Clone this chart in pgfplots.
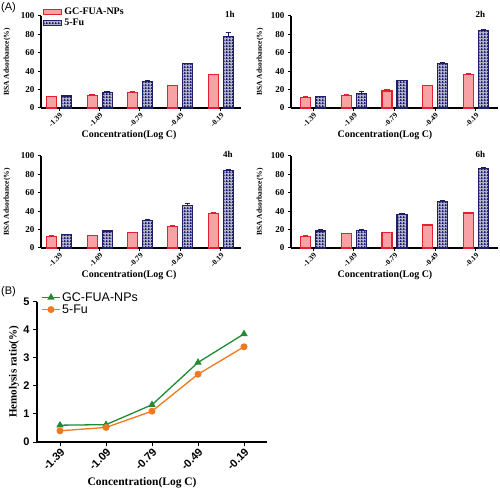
\documentclass[border=0pt]{standalone}
\usepackage{pgfplots}
\pgfplotsset{compat=1.18}
\usepackage{pgfplotstable}
\usetikzlibrary{patterns}
\usepackage{fontspec}
\setmainfont{Liberation Serif}
\newfontfamily\arial{Liberation Sans}
\definecolor{barred}{RGB}{228,32,48}
\definecolor{barpink}{RGB}{247,162,164}
\definecolor{navy}{RGB}{30,30,105}
\definecolor{lgreen}{RGB}{30,140,50}
\definecolor{lorange}{RGB}{240,120,30}
\pgfdeclarepatterninherentlycolored{navydots}{\pgfpointorigin}{\pgfqpoint{2.6pt}{2.6pt}}{\pgfqpoint{2.6pt}{2.6pt}}{%
 \pgfsetfillcolor{navy}\pgfpathrectangle{\pgfpointorigin}{\pgfqpoint{2.6pt}{2.6pt}}\pgfusepath{fill}%
 \pgfsetfillcolor{white}\pgfpathcircle{\pgfqpoint{1.3pt}{1.3pt}}{1.05pt}\pgfusepath{fill}}

\pgfplotstableread{
x r re b be
0 12.5 0.5 13 0.5
1 13.5 0.8 17 1.2
2 17 0.6 29 0.6
3 24 0.6 48 0.6
4 36 0.7 78 4.5
}\dataA
\pgfplotstableread{
x r re b be
0 11 1 12.3 0.6
1 13.5 0.7 16 1.8
2 18.5 1.5 29.5 0.8
3 24 0.6 48.5 0.6
4 36.5 0.6 84.5 1
}\dataB
\pgfplotstableread{
x r re b be
0 12.5 0.6 14.5 0.6
1 13.5 0.6 18.5 0.6
2 16.5 0.7 30 0.8
3 23 1.2 46.5 2
4 37.5 0.6 84 1
}\dataC
\pgfplotstableread{
x r re b be
0 12.5 0.6 18.5 1.5
1 15.5 0.5 19.5 0.6
2 16.5 0.6 36 2
3 25 1 50.5 0.7
4 38 0.7 86.5 1.2
}\dataD

\pgfplotsset{
 redbar/.style={draw=barred, line width=1.1pt, fill=barpink,
   error bars/.cd, y dir=plus, y explicit,
   error bar style={barred, line width=1pt},
   error mark options={barred, rotate=90, mark size=2.6pt, line width=1pt}},
 bluebar/.style={draw=navy, line width=1.1pt, pattern=navydots,
   error bars/.cd, y dir=plus, y explicit,
   error bar style={navy, line width=1pt},
   error mark options={navy, rotate=90, mark size=2.6pt, line width=1pt}},
 barpanel/.style={
  scale only axis, height=92pt, clip=false,
  ymin=0, ymax=100, ytick={0,20,...,100},
  xtick={0,...,4}, xticklabels={-1.39,-1.09,-0.79,-0.49,-0.19},
  axis x line*=bottom, axis y line*=left,
  axis line style={line width=1.2pt},
  tick align=outside, major tick length=3pt, tick style={line width=1pt, black},
  ybar=5pt, bar width=10pt,
  ticklabel style={font=\bfseries\fontsize{9}{9}\selectfont},
  /pgf/number format/assume math mode=true,
  xticklabel style={rotate=45, anchor=north east, inner sep=1pt, font=\bfseries\fontsize{7.5}{7.5}\selectfont},
 },
 leftpanel/.style={barpanel, width=200pt, xmin=-0.45, xmax=4.5},
 rightpanel/.style={barpanel, width=207pt, xmin=-0.55, xmax=4.55},
}
\newcommand{\xlab}[1]{\node[font=\bfseries\fontsize{10}{10}\selectfont] at (axis description cs:#1,-0.29) {Concentration(Log C)};}
\newcommand{\ylab}[1]{\node[font=\bfseries\fontsize{7.5}{7.5}\selectfont, rotate=90] at (axis description cs:#1,0.5) {BSA Adsorbance(\%)};}

\begin{document}
\begin{tikzpicture}
\useasboundingbox (0pt,0pt) rectangle (500pt,492pt);
\node[font=\arial\fontsize{11}{11}\selectfont, anchor=north west, inner sep=0pt] at (1pt,490pt) {(A)};
\node[font=\arial\fontsize{11}{11}\selectfont, anchor=north west, inner sep=0pt] at (1pt,206pt) {(B)};

% 1h
\begin{axis}[leftpanel, at={(41pt,384pt)}, anchor=south west,
  legend image code/.code={\draw[#1] (0pt,-2.5pt) rectangle (18pt,2.5pt);},
  legend style={draw=none, fill=none, at={(axis description cs:0.01,1.11)}, anchor=north west,
   font=\bfseries\fontsize{10}{10}\selectfont, row sep=-1.5pt, inner sep=0pt,
   /tikz/every even column/.append style={column sep=3pt}},
  legend cell align=left]
\addplot[redbar] table[x=x, y=r, y error=re]{\dataA};
\addplot[bluebar] table[x=x, y=b, y error=be]{\dataA};
\legend{GC-FUA-NPs,5-Fu}
\node[font=\bfseries\fontsize{9}{9}\selectfont] at (axis description cs:0.945,1.02) {1h};
\xlab{0.44}\ylab{-0.17}
\end{axis}

% 2h
\begin{axis}[rightpanel, at={(291pt,384pt)}, anchor=south west]
\addplot[redbar] table[x=x, y=r, y error=re]{\dataB};
\addplot[bluebar] table[x=x, y=b, y error=be]{\dataB};
\node[font=\bfseries\fontsize{9}{9}\selectfont] at (axis description cs:0.915,1.02) {2h};
\xlab{0.454}\ylab{-0.15}
\end{axis}

% 4h
\begin{axis}[leftpanel, at={(41pt,244pt)}, anchor=south west]
\addplot[redbar] table[x=x, y=r, y error=re]{\dataC};
\addplot[bluebar] table[x=x, y=b, y error=be]{\dataC};
\node[font=\bfseries\fontsize{9}{9}\selectfont] at (axis description cs:0.935,1.02) {4h};
\xlab{0.44}\ylab{-0.17}
\end{axis}

% 6h
\begin{axis}[rightpanel, at={(291pt,244pt)}, anchor=south west]
\addplot[redbar] table[x=x, y=r, y error=re]{\dataD};
\addplot[bluebar] table[x=x, y=b, y error=be]{\dataD};
\node[font=\bfseries\fontsize{9}{9}\selectfont] at (axis description cs:0.915,1.02) {6h};
\xlab{0.454}\ylab{-0.15}
\end{axis}

% (B)
\begin{axis}[scale only axis, width=230pt, height=140pt, at={(37pt,50pt)}, anchor=south west,
  clip=false,
  xmin=-0.5, xmax=4.5, ymin=0, ymax=5,
  xtick={0,...,4}, xticklabels={-1.39,-1.09,-0.79,-0.49,-0.19},
  ytick={0,...,5},
  axis x line*=bottom, axis y line*=left,
  axis line style={line width=1.2pt},
  tick align=outside, major tick length=4pt, tick style={line width=1pt, black},
  /pgf/number format/assume math mode=true,
  ticklabel style={font=\arial\bfseries\fontsize{11}{11}\selectfont},
  xticklabel style={rotate=45, anchor=north east, inner sep=1pt},
  legend style={draw=none, fill=none, at={(axis description cs:0.02,1.085)}, anchor=north west,
   font=\arial\fontsize{12.5}{12.5}\selectfont, row sep=-2pt, inner sep=0pt},
  legend cell align=left]
\addplot[lgreen, line width=1.3pt, mark=triangle*, mark size=3pt] coordinates {(0,0.6)(1,0.62)(2,1.33)(3,2.84)(4,3.86)};
\addplot[lorange, line width=1.3pt, mark=*, mark size=2.8pt] coordinates {(0,0.4)(1,0.52)(2,1.1)(3,2.42)(4,3.4)};
\legend{GC-FUA-NPs,5-Fu}
\node[font=\bfseries\fontsize{11.5}{11.5}\selectfont] at (axis description cs:0.457,-0.293) {Concentration(Log C)};
\node[font=\bfseries\fontsize{11}{11}\selectfont, rotate=90] at (axis description cs:-0.1,0.5) {Hemolysis ratio(\%)};
\end{axis}
\end{tikzpicture}
\end{document}
